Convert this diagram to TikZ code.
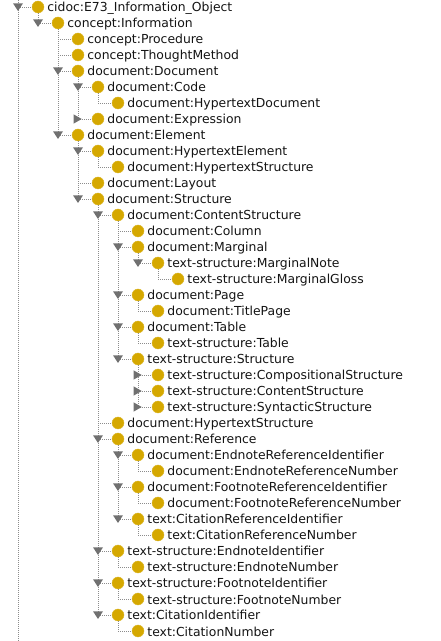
\documentclass[tikz,border=0pt]{standalone}
\usepackage{fontspec}
\setmainfont{DejaVu Sans}
\usetikzlibrary{positioning}
\definecolor{owlgold}{RGB}{213,168,0}
\definecolor{handle}{RGB}{112,112,112}
\definecolor{guide}{RGB}{140,140,140}

\tikzset{
  tridown/.pic={\fill[handle] (-5,3.7) -- (5,3.7) -- (0,-4) -- cycle;},
  triright/.pic={\fill[handle] (-4.5,4.7) -- (-4.5,-4.7) -- (3.7,0) -- cycle;}}

\begin{document}
\begin{tikzpicture}[x=1pt, y=1pt,
  cls/.style={circle, fill=owlgold, draw=owlgold!85!white, line width=0.4pt,
              minimum size=12pt, inner sep=0pt},
  lbl/.style={font=\fontsize{12.4}{14}\selectfont, text=black!92,
              inner sep=0pt, text height=10pt, text depth=0pt},
  tree/.style={guide, line width=0.8pt, dash pattern=on 1pt off 1pt}]
\useasboundingbox (0,0) rectangle (440,641);

% class bullets
\node[cls] (root)    at (38,634) {};
\node[cls] (info)    at (58,618) {};
\node[cls] (proc)    at (78,602) {};
\node[cls] (thought) at (78,586) {};
\node[cls] (doc)     at (78,570) {};
\node[cls] (code)    at (98,554) {};
\node[cls] (hdoc)    at (118,538) {};
\node[cls] (expr)    at (98,522) {};
\node[cls] (elem)    at (78,506) {};
\node[cls] (helem)   at (98,490) {};
\node[cls] (hstruct) at (118,474) {};
\node[cls] (layout)  at (98,458) {};
\node[cls] (struct)  at (98,442) {};
\node[cls] (cstruct) at (118,426) {};
\node[cls] (column)  at (138,410) {};
\node[cls] (marg)    at (138,394) {};
\node[cls] (mnote)   at (158,378) {};
\node[cls] (mgloss)  at (178,362) {};
\node[cls] (page)    at (138,346) {};
\node[cls] (tpage)   at (158,330) {};
\node[cls] (table)   at (138,314) {};
\node[cls] (tstable) at (158,298) {};
\node[cls] (tsstruct) at (138,282) {};
\node[cls] (comp)    at (158,266) {};
\node[cls] (tscont)  at (158,250) {};
\node[cls] (synt)    at (158,234) {};
\node[cls] (hstructb) at (118,218) {};
\node[cls] (ref)     at (118,202) {};
\node[cls] (eri)     at (138,186) {};
\node[cls] (ern)     at (158,170) {};
\node[cls] (fri)     at (138,154) {};
\node[cls] (frn)     at (158,138) {};
\node[cls] (cri)     at (138,122) {};
\node[cls] (crn)     at (158,106) {};
\node[cls] (ei)      at (118,90) {};
\node[cls] (en)      at (138,74) {};
\node[cls] (fi)      at (118,58) {};
\node[cls] (fn)      at (138,42) {};
\node[cls] (ci)      at (118,26) {};
\node[cls] (cn)      at (138,10) {};

% class names
\node[lbl, right=3pt of root]    (root-t)    {cidoc:E73\_Information\_Object};
\node[lbl, right=3pt of info]    (info-t)    {concept:Information};
\node[lbl, right=3pt of proc]    (proc-t)    {concept:Procedure};
\node[lbl, right=3pt of thought] (thought-t) {concept:ThoughtMethod};
\node[lbl, right=3pt of doc]     (doc-t)     {document:Document};
\node[lbl, right=3pt of code]    (code-t)    {document:Code};
\node[lbl, right=3pt of hdoc]    (hdoc-t)    {document:HypertextDocument};
\node[lbl, right=3pt of expr]    (expr-t)    {document:Expression};
\node[lbl, right=3pt of elem]    (elem-t)    {document:Element};
\node[lbl, right=3pt of helem]   (helem-t)   {document:HypertextElement};
\node[lbl, right=3pt of hstruct] (hstruct-t) {document:HypertextStructure};
\node[lbl, right=3pt of layout]  (layout-t)  {document:Layout};
\node[lbl, right=3pt of struct]  (struct-t)  {document:Structure};
\node[lbl, right=3pt of cstruct] (cstruct-t) {document:ContentStructure};
\node[lbl, right=3pt of column]  (column-t)  {document:Column};
\node[lbl, right=3pt of marg]    (marg-t)    {document:Marginal};
\node[lbl, right=3pt of mnote]   (mnote-t)   {text-structure:MarginalNote};
\node[lbl, right=3pt of mgloss]  (mgloss-t)  {text-structure:MarginalGloss};
\node[lbl, right=3pt of page]    (page-t)    {document:Page};
\node[lbl, right=3pt of tpage]   (tpage-t)   {document:TitlePage};
\node[lbl, right=3pt of table]   (table-t)   {document:Table};
\node[lbl, right=3pt of tstable] (tstable-t) {text-structure:Table};
\node[lbl, right=3pt of tsstruct] (tsstruct-t) {text-structure:Structure};
\node[lbl, right=3pt of comp]    (comp-t)    {text-structure:CompositionalStructure};
\node[lbl, right=3pt of tscont]  (tscont-t)  {text-structure:ContentStructure};
\node[lbl, right=3pt of synt]    (synt-t)    {text-structure:SyntacticStructure};
\node[lbl, right=3pt of hstructb] (hstructb-t) {document:HypertextStructure};
\node[lbl, right=3pt of ref]     (ref-t)     {document:Reference};
\node[lbl, right=3pt of eri]     (eri-t)     {document:EndnoteReferenceIdentifier};
\node[lbl, right=3pt of ern]     (ern-t)     {document:EndnoteReferenceNumber};
\node[lbl, right=3pt of fri]     (fri-t)     {document:FootnoteReferenceIdentifier};
\node[lbl, right=3pt of frn]     (frn-t)     {document:FootnoteReferenceNumber};
\node[lbl, right=3pt of cri]     (cri-t)     {text:CitationReferenceIdentifier};
\node[lbl, right=3pt of crn]     (crn-t)     {text:CitationReferenceNumber};
\node[lbl, right=3pt of ei]      (ei-t)      {text-structure:EndnoteIdentifier};
\node[lbl, right=3pt of en]      (en-t)      {text-structure:EndnoteNumber};
\node[lbl, right=3pt of fi]      (fi-t)      {text-structure:FootnoteIdentifier};
\node[lbl, right=3pt of fn]      (fn-t)      {text-structure:FootnoteNumber};
\node[lbl, right=3pt of ci]      (ci-t)      {text:CitationIdentifier};
\node[lbl, right=3pt of cn]      (cn-t)      {text:CitationNumber};

% guide lines
\coordinate (rtop) at (18,641);
\coordinate (rbot) at (18,0);
\draw[tree] (rtop) -- (rbot);
\draw[tree] (rtop |- root) -- (root);
\draw[tree] (root) |- (info);
\draw[tree] (info) |- (proc);
\draw[tree] (info) |- (thought);
\draw[tree] (info) |- (doc);
\draw[tree] (info) |- (elem);
\draw[tree] (doc) |- (code);
\draw[tree] (doc) |- (expr);
\draw[tree] (code) |- (hdoc);
\draw[tree] (elem) |- (helem);
\draw[tree] (elem) |- (layout);
\draw[tree] (elem) |- (struct);
\draw[tree] (helem) |- (hstruct);
\draw[tree] (struct) |- (cstruct);
\draw[tree] (struct) |- (hstructb);
\draw[tree] (struct) |- (ref);
\draw[tree] (struct) |- (ei);
\draw[tree] (struct) |- (fi);
\draw[tree] (struct) |- (ci);
\draw[tree] (cstruct) |- (column);
\draw[tree] (cstruct) |- (marg);
\draw[tree] (cstruct) |- (page);
\draw[tree] (cstruct) |- (table);
\draw[tree] (cstruct) |- (tsstruct);
\draw[tree] (marg) |- (mnote);
\draw[tree] (mnote) |- (mgloss);
\draw[tree] (page) |- (tpage);
\draw[tree] (table) |- (tstable);
\draw[tree] (tsstruct) |- (comp);
\draw[tree] (tsstruct) |- (tscont);
\draw[tree] (tsstruct) |- (synt);
\draw[tree] (ref) |- (eri);
\draw[tree] (ref) |- (fri);
\draw[tree] (ref) |- (cri);
\draw[tree] (eri) |- (ern);
\draw[tree] (fri) |- (frn);
\draw[tree] (cri) |- (crn);
\draw[tree] (ei) |- (en);
\draw[tree] (fi) |- (fn);
\draw[tree] (ci) |- (cn);

% expand / collapse handles
\pic at (rtop |- root) {tridown};
\pic at (root |- info) {tridown};
\pic at (info |- doc) {tridown};
\pic at (info |- elem) {tridown};
\pic at (doc |- code) {tridown};
\pic at (doc |- expr) {triright};
\pic at (elem |- helem) {tridown};
\pic at (elem |- struct) {tridown};
\pic at (struct |- cstruct) {tridown};
\pic at (struct |- ref) {tridown};
\pic at (struct |- ei) {tridown};
\pic at (struct |- fi) {tridown};
\pic at (struct |- ci) {tridown};
\pic at (cstruct |- marg) {tridown};
\pic at (cstruct |- page) {tridown};
\pic at (cstruct |- table) {tridown};
\pic at (cstruct |- tsstruct) {tridown};
\pic at (marg |- mnote) {tridown};
\pic at (tsstruct |- comp) {triright};
\pic at (tsstruct |- tscont) {triright};
\pic at (tsstruct |- synt) {triright};
\pic at (ref |- eri) {tridown};
\pic at (ref |- fri) {tridown};
\pic at (ref |- cri) {tridown};
\end{tikzpicture}
\end{document}
